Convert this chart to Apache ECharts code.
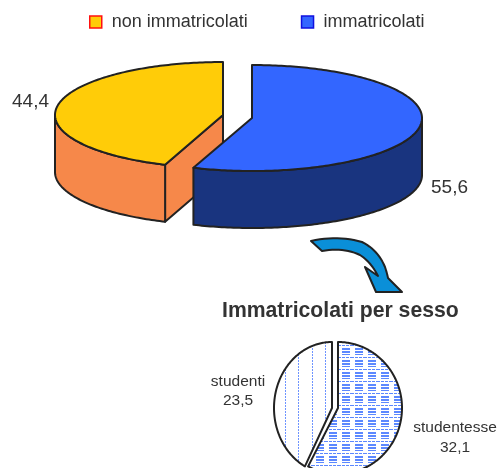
<!DOCTYPE html>
<html><head><meta charset="utf-8">
<style>html,body{margin:0;padding:0;background:#fff}#c{width:500px;height:468px}</style>
<script src="https://cdn.jsdelivr.net/npm/echarts@6/dist/echarts.min.js"></script>
</head><body><div id="c"></div>
<script>
const mainCategories = ['non immatricolati', 'immatricolati'];
const mainValues = [44.4, 55.6];
const sexCategories = ['studenti', 'studentesse'];
const sexValues = [23.5, 32.1];
const titleText = 'Immatricolati per sesso';

const FONT = '"Liberation Sans", Arial, sans-serif';
const INK = '#222222';
const TEXT = '#333333';

function tile(w, h, draw) {
  const c = document.createElement('canvas');
  c.width = w; c.height = h;
  const g = c.getContext('2d');
  g.fillStyle = '#fff'; g.fillRect(0, 0, w, h);
  g.fillStyle = '#5C88FF';
  draw(g);
  return { image: c, repeat: 'repeat' };
}
const verticalDots = tile(40, 3, g => {
  g.fillStyle = '#6E94FF';
  [5, 18, 32].forEach(x => g.fillRect(x, 0, 1, 2));
});
const horizontalBars = tile(13, 12, g => {
  for (let x = 0; x < 13; x += 4) g.fillRect(x, 9, 3, 1);
  g.fillRect(4, 0, 8, 2);
  g.fillRect(4, 3, 8, 2);
  g.fillRect(4, 6, 8, 1);
});

const fmt = v => String(v).replace('.', ',');
const rad = d => d * Math.PI / 180;

function sliceSeries(name, value, total, cfg) {
  return {
    type: 'custom',
    name,
    coordinateSystem: 'none',
    silent: true,
    animation: false,
    data: [[value]],
    renderItem(params, api) {
      const sweep = api.value(0) / total * 360;
      const a0 = cfg.side > 0 ? 0 : -sweep;
      const a1 = cfg.side > 0 ? sweep : 0;
      const pt = (t, dy) => [cfg.cx + cfg.rx * Math.sin(rad(t)), cfg.cy + dy - cfg.ry * Math.cos(rad(t))];
      const arc = (from, to, dy) => {
        const out = [];
        const n = Math.max(2, Math.ceil(Math.abs(to - from)));
        for (let i = 0; i <= n; i++) out.push(pt(from + (to - from) * i / n, dy));
        return out;
      };
      const line = { stroke: INK, lineWidth: cfg.lw, lineJoin: 'round' };
      const poly = (points, fill) => ({
        type: 'polygon', shape: { points }, style: Object.assign({ fill }, line)
      });
      const kids = [];
      if (cfg.depth) {
        if (cfg.side < 0) {
          const apex = [cfg.cx, cfg.cy];
          const tip = pt(a0, 0);
          kids.push(poly([tip, apex, [apex[0], apex[1] + cfg.depth], [tip[0], tip[1] + cfg.depth]], cfg.wall));
          const w = arc(-90, a0, 0).concat(arc(a0, -90, cfg.depth));
          kids.push(poly(w, cfg.wall));
        } else {
          const w = arc(90, a1, 0).concat(arc(a1, 90, cfg.depth));
          kids.push(poly(w, cfg.wall));
        }
      }
      kids.push(poly([[cfg.cx, cfg.cy]].concat(arc(a0, a1, 0)), cfg.top));
      kids.push({
        type: 'text',
        style: {
          text: cfg.label(fmt(api.value(0))), x: cfg.lx, y: cfg.ly,
          fill: TEXT, font: cfg.font, align: cfg.align, verticalAlign: 'middle', lineHeight: cfg.lh
        }
      });
      return { type: 'group', children: kids };
    }
  };
}

// Decorative arrow outline: straight runs and quadratic curves.
function arrowOutline() {
  const segs = [
    [[311,241],[338,235],[362,242]], [[362,242],[378,250],[385,267]], [[385,267],[387,273],[388,278]],
    [[388,278],null,[402,292]], [[402,292],null,[376,292]], [[376,292],null,[365,267]], [[365,267],null,[378,276]],
    [[378,276],[371,262],[360,255]], [[360,255],[343,247],[322,251]]
  ];
  const out = [];
  segs.forEach(([a, c, b]) => {
    if (!c) { out.push(a, b); return; }
    for (let i = 0; i <= 12; i++) {
      const t = i / 12, u = 1 - t;
      out.push([u*u*a[0] + 2*u*t*c[0] + t*t*b[0], u*u*a[1] + 2*u*t*c[1] + t*t*b[1]]);
    }
  });
  return out;
}

const mainTotal = mainValues[0] + mainValues[1];
const sexTotal = sexValues[0] + sexValues[1];
const bigFont = '19px ' + FONT;
const smallFont = '15.5px ' + FONT;

const option = {
  backgroundColor: '#fff',
  title: {
    text: titleText, left: 222, top: 301,
    padding: 0,
    textStyle: { fontFamily: FONT, fontWeight: 'bold', fontSize: 21.2, color: TEXT }
  },
  legend: {
    left: 89, top: 13, itemWidth: 12, itemHeight: 12, itemGap: 53,
    padding: 0,
    selectedMode: false, icon: 'rect',
    textStyle: { fontFamily: FONT, fontSize: 18, color: TEXT, padding: [0, 0, 0, 5] },
    data: [
      { name: mainCategories[0], itemStyle: { color: '#FFCC08', borderColor: '#FF1010', borderWidth: 1.5 } },
      { name: mainCategories[1], itemStyle: { color: '#3366FF', borderColor: '#1010E0', borderWidth: 1.5 } }
    ]
  },
  graphic: [{
    type: 'polygon',
    shape: { points: arrowOutline() },
    style: { fill: '#0A8FD8', stroke: INK, lineWidth: 2, lineJoin: 'round' },
    silent: true
  }],
  series: [
    sliceSeries(mainCategories[0], mainValues[0], mainTotal, {
      side: -1, cx: 223, cy: 115, rx: 168, ry: 53, depth: 57, lw: 2,
      top: '#FFCC08', wall: '#F6884A',
      label: s => s, lx: 12, ly: 102, align: 'left', font: bigFont
    }),
    sliceSeries(mainCategories[1], mainValues[1], mainTotal, {
      side: 1, cx: 252, cy: 118, rx: 170, ry: 53, depth: 57, lw: 2,
      top: '#3366FF', wall: '#19347F',
      label: s => s, lx: 431, ly: 188, align: 'left', font: bigFont
    }),
    sliceSeries(sexCategories[0], sexValues[0], sexTotal, {
      side: -1, cx: 332, cy: 408, rx: 58, ry: 66, depth: 0, lw: 2,
      top: verticalDots,
      label: s => sexCategories[0] + '\n' + s, lx: 238, ly: 391, align: 'center', font: smallFont, lh: 19
    }),
    sliceSeries(sexCategories[1], sexValues[1], sexTotal, {
      side: 1, cx: 338, cy: 408, rx: 64, ry: 66, depth: 0, lw: 2,
      top: horizontalBars,
      label: s => sexCategories[1] + '\n' + s, lx: 455, ly: 438, align: 'center', font: smallFont, lh: 20
    })
  ]
};
const chart = echarts.init(document.getElementById('c'), null, { renderer: 'canvas' });
chart.setOption(option);
</script></body></html>
